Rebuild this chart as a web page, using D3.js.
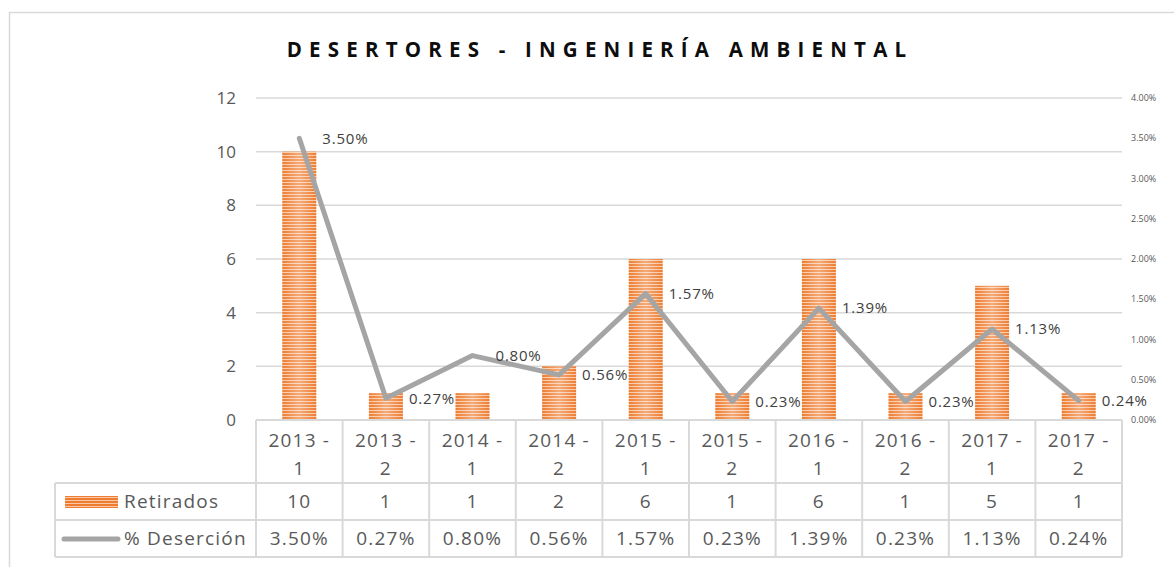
<!DOCTYPE html>
<html>
<head>
<meta charset="utf-8">
<script src="https://cdn.jsdelivr.net/npm/d3@7"></script>
<style>
  body { margin: 0; background: #fff; }
  text { font-family: "Open Sans", Lato, sans-serif; }
</style>
</head>
<body>
<script>
const categories = ["2013 - 1", "2013 - 2", "2014 - 1", "2014 - 2", "2015 - 1", "2015 - 2", "2016 - 1", "2016 - 2", "2017 - 1", "2017 - 2"];
const retirados = [10, 1, 1, 2, 6, 1, 6, 1, 5, 1];
const desercion = [3.50, 0.27, 0.80, 0.56, 1.57, 0.23, 1.39, 0.23, 1.13, 0.24];
const leftTicks = [0, 2, 4, 6, 8, 10, 12];
const rightTicks = [0, 0.5, 1, 1.5, 2, 2.5, 3, 3.5, 4];

const W = 1174, H = 567;
const svg = d3.select("body").append("svg").attr("width", W).attr("height", H);

const defs = svg.append("defs");
const pat = defs.append("pattern").attr("id", "stripes")
  .attr("patternUnits", "userSpaceOnUse").attr("width", 8).attr("height", 3);
pat.append("rect").attr("width", 8).attr("height", 3).attr("fill", "#f8c9a8");
pat.append("rect").attr("width", 8).attr("height", 2).attr("fill", "#ee7d31");
const grad = defs.append("linearGradient").attr("id", "shine");
grad.append("stop").attr("offset", "0%").attr("stop-color", "#fff").attr("stop-opacity", 0);
grad.append("stop").attr("offset", "50%").attr("stop-color", "#fff").attr("stop-opacity", 0.35);
grad.append("stop").attr("offset", "100%").attr("stop-color", "#fff").attr("stop-opacity", 0);

// outer frame
svg.append("rect").attr("x", 9.5).attr("y", 12.5).attr("width", 1200).attr("height", 600)
  .attr("fill", "none").attr("stroke", "#d9d9d9").attr("stroke-width", 1.5);

svg.append("text").attr("x", 600).attr("y", 57).attr("text-anchor", "middle")
  .attr("font-size", 20.5).attr("font-weight", "bold").attr("letter-spacing", 7.2)
  .attr("fill", "#0d0d0d").text("DESERTORES - INGENIERÍA AMBIENTAL");

const pLeft = 256, pRight = 1122, pTop = 98, pBottom = 420;
const x = d3.scaleBand().domain(categories).range([pLeft, pRight]);
const y = d3.scaleLinear().domain([0, 12]).range([pBottom, pTop]);
const y2 = d3.scaleLinear().domain([0, 4]).range([pBottom, pTop]);

// gridlines
svg.append("g").selectAll("line").data(leftTicks.slice(1)).join("line")
  .attr("x1", pLeft).attr("x2", pRight).attr("y1", d => y(d)).attr("y2", d => y(d))
  .attr("stroke", "#d9d9d9").attr("stroke-width", 1.5);

// left axis labels
svg.append("g").selectAll("text").data(leftTicks).join("text")
  .attr("x", 236).attr("y", d => y(d)).attr("dy", "0.35em").attr("text-anchor", "end")
  .attr("font-size", 17).attr("fill", "#595959").text(d => d);

// right axis labels
svg.append("g").selectAll("text").data(rightTicks).join("text")
  .attr("x", 1131).attr("y", d => y2(d)).attr("dy", "0.35em")
  .attr("font-size", 9).attr("fill", "#595959").text(d => d.toFixed(2) + "%");

// bars
const bw = 34;
const bars = svg.append("g");
bars.selectAll("rect.b").data(retirados).join("rect").attr("class", "b")
  .attr("x", (d, i) => x(categories[i]) + x.bandwidth() / 2 - bw / 2)
  .attr("y", d => y(d)).attr("width", bw).attr("height", d => pBottom - y(d))
  .attr("fill", "url(#stripes)");
bars.selectAll("rect.s").data(retirados).join("rect").attr("class", "s")
  .attr("x", (d, i) => x(categories[i]) + x.bandwidth() / 2 - bw / 2)
  .attr("y", d => y(d)).attr("width", bw).attr("height", d => pBottom - y(d))
  .attr("fill", "url(#shine)");

// line
const pts = desercion.map((d, i) => [x(categories[i]) + x.bandwidth() / 2, y2(d)]);
svg.append("path").datum(pts)
  .attr("d", d3.line()).attr("fill", "none").attr("stroke", "#a5a5a5")
  .attr("stroke-width", 5).attr("stroke-linejoin", "round").attr("stroke-linecap", "round");

svg.append("g").selectAll("text").data(desercion).join("text")
  .attr("x", (d, i) => pts[i][0] + 23).attr("y", (d, i) => pts[i][1]).attr("dy", "0.35em")
  .attr("font-size", 15).attr("letter-spacing", 0.8).attr("fill", "#404040").text(d => d.toFixed(2) + "%");

// data table
const tb = svg.append("g");
const rowY = [420, 483, 520, 557];
const bc = "#d9d9d9";
tb.append("line").attr("x1", pLeft).attr("x2", pRight).attr("y1", rowY[0]).attr("y2", rowY[0]).attr("stroke", bc).attr("stroke-width", 2);
rowY.slice(1).forEach(yy => tb.append("line").attr("x1", 55).attr("x2", pRight).attr("y1", yy).attr("y2", yy).attr("stroke", bc).attr("stroke-width", 2));
tb.append("line").attr("x1", 55).attr("x2", 55).attr("y1", rowY[1]).attr("y2", rowY[3]).attr("stroke", bc).attr("stroke-width", 2);
const xs = categories.map(c => x(c)).concat([pRight]);
tb.selectAll("line.v").data(xs).join("line").attr("class", "v")
  .attr("x1", d => d).attr("x2", d => d).attr("y1", rowY[0]).attr("y2", rowY[3])
  .attr("stroke", bc).attr("stroke-width", 2);

const cx = c => x(c) + x.bandwidth() / 2;
const fs = 19, ls = 1.2;
const hdr = tb.selectAll("g.h").data(categories).join("g").attr("class", "h");
hdr.append("text").attr("x", d => cx(d)).attr("y", 447).attr("text-anchor", "middle")
  .attr("font-size", fs).attr("letter-spacing", ls).attr("fill", "#595959").text(d => d.split(" - ")[0] + " -");
hdr.append("text").attr("x", d => cx(d)).attr("y", 475).attr("text-anchor", "middle")
  .attr("font-size", fs).attr("letter-spacing", ls).attr("fill", "#595959").text(d => d.split(" - ")[1]);

tb.selectAll("text.r1").data(retirados).join("text").attr("class", "r1")
  .attr("x", (d, i) => cx(categories[i])).attr("y", 508).attr("text-anchor", "middle")
  .attr("font-size", fs).attr("letter-spacing", ls).attr("fill", "#595959").text(d => d);
tb.selectAll("text.r2").data(desercion).join("text").attr("class", "r2")
  .attr("x", (d, i) => cx(categories[i])).attr("y", 545).attr("text-anchor", "middle")
  .attr("font-size", fs).attr("letter-spacing", ls).attr("fill", "#595959").text(d => d.toFixed(2) + "%");

// legend keys
tb.append("rect").attr("x", 65).attr("y", 496).attr("width", 53).attr("height", 12).attr("fill", "url(#stripes)");
tb.append("text").attr("x", 124).attr("y", 508).attr("font-size", fs).attr("letter-spacing", ls).attr("fill", "#595959").text("Retirados");
tb.append("line").attr("x1", 64).attr("x2", 118).attr("y1", 539).attr("y2", 539)
  .attr("stroke", "#a5a5a5").attr("stroke-width", 5).attr("stroke-linecap", "round");
tb.append("text").attr("x", 124).attr("y", 545).attr("font-size", fs).attr("letter-spacing", ls).attr("fill", "#595959").text("% Deserción");
</script>
</body>
</html>
